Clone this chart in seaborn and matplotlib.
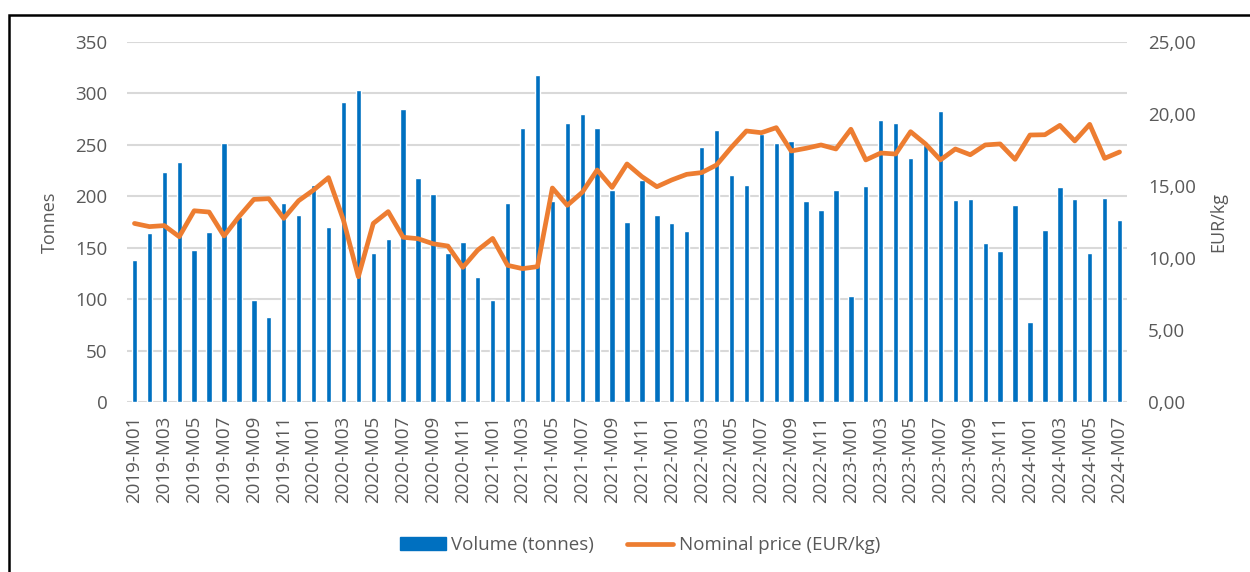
import matplotlib
matplotlib.use("Agg")
import matplotlib.pyplot as plt
import seaborn as sns
import pandas as pd
import numpy as np
from matplotlib.patches import Rectangle
from matplotlib.lines import Line2D
from matplotlib.ticker import FuncFormatter

months = [f"{y}-M{m:02d}" for y in range(2019, 2025) for m in range(1, 13)][:67]

volume = [138, 164, 224, 233, 148, 165, 252, 180, 99, 83, 193, 182,
          211, 170, 292, 303, 145, 158, 285, 218, 202, 145, 156, 122,
          99, 193, 266, 318, 195, 271, 280, 266, 206, 175, 216, 182,
          174, 166, 248, 264, 221, 211, 261, 252, 254, 195, 187, 206,
          103, 210, 274, 271, 237, 250, 283, 196, 197, 155, 147, 192,
          78, 167, 209, 197, 145, 198, 177]

price = [12.40, 12.18, 12.25, 11.48, 13.28, 13.19, 11.53, 12.87, 14.07, 14.12, 12.75, 13.98,
         14.72, 15.58, 12.64, 8.70, 12.40, 13.22, 11.44, 11.34, 10.99, 10.83, 9.35, 10.55,
         11.36, 9.49, 9.26, 9.40, 14.86, 13.66, 14.56, 16.11, 14.90, 16.53, 15.65, 14.95,
         15.42, 15.81, 15.93, 16.46, 17.69, 18.82, 18.70, 19.05, 17.43, 17.62, 17.85, 17.57,
         18.94, 16.81, 17.29, 17.22, 18.77, 17.92, 16.81, 17.57, 17.17, 17.85, 17.92, 16.85,
         18.54, 18.56, 19.21, 18.13, 19.28, 16.92, 17.36]

df = pd.DataFrame({"month": months, "volume": volume, "price": price,
                   "idx": np.arange(len(months))})

sns.set_theme(style="white")
plt.rcParams["font.family"] = ["Open Sans", "DejaVu Sans"]

BLUE = "#0070C0"
ORANGE = "#ED7D31"
GRAY = "#595959"

fig = plt.figure(figsize=(12.5, 5.72), dpi=100)
ax = fig.add_axes([0.1016, 0.2972, 0.8, 0.6294])

sns.barplot(data=df, x="month", y="volume", color=BLUE, width=0.36,
            saturation=1, ax=ax, zorder=2)
ax.set_ylim(0, 350)
ax.set_yticks(range(0, 351, 50))
ax.set_xlim(-0.5, len(months) - 0.5)
ax.yaxis.grid(True, color="#D9D9D9", linewidth=1.5, zorder=0)
ax.set_axisbelow(True)
for s in ax.spines.values():
    s.set_visible(False)
ax.set_xticks(df["idx"][::2])
ax.set_xticklabels(df["month"][::2], rotation=90, fontsize=13.5, color=GRAY)
ax.tick_params(axis="y", labelsize=13.5, colors=GRAY, length=0, pad=14)
ax.tick_params(axis="x", length=0, pad=10)
ax.set_xlabel("")
ax.set_ylabel("Tonnes", fontsize=13, color=GRAY, labelpad=12)

ax2 = ax.twinx()
sns.lineplot(data=df, x="idx", y="price", color=ORANGE, linewidth=3.4, ax=ax2,
             zorder=3)
ax2.set_ylim(0, 25)
ax2.set_yticks(range(0, 26, 5))
ax2.yaxis.set_major_formatter(FuncFormatter(lambda v, p: f"{v:.2f}".replace(".", ",")))
ax2.tick_params(axis="y", labelsize=13.5, colors=GRAY, length=0, pad=15)
for s in ax2.spines.values():
    s.set_visible(False)
ax2.set_ylabel("EUR/kg", fontsize=13, color=GRAY, labelpad=10)
ax2.set_xlim(-0.5, len(months) - 0.5)
ax2.set_xlabel("")

handles = [Rectangle((0, 0), 1, 1, color=BLUE),
           Line2D([0], [0], color=ORANGE, linewidth=3.4, solid_capstyle="round")]
fig.legend(handles, ["Volume (tonnes)", "Nominal price (EUR/kg)"],
           loc="center", bbox_to_anchor=(0.512, 0.047), ncol=2, frameon=False,
           fontsize=13.5, labelcolor=GRAY, handlelength=2.45, handletextpad=0.3,
           columnspacing=1.75)

fig.patches.append(Rectangle((9 / 1250, -0.05), 1.1, 1 - 15 / 572 + 0.05,
                             transform=fig.transFigure, fill=False,
                             edgecolor="black", linewidth=1.8, zorder=10))

fig.savefig("out.png", dpi=100)
